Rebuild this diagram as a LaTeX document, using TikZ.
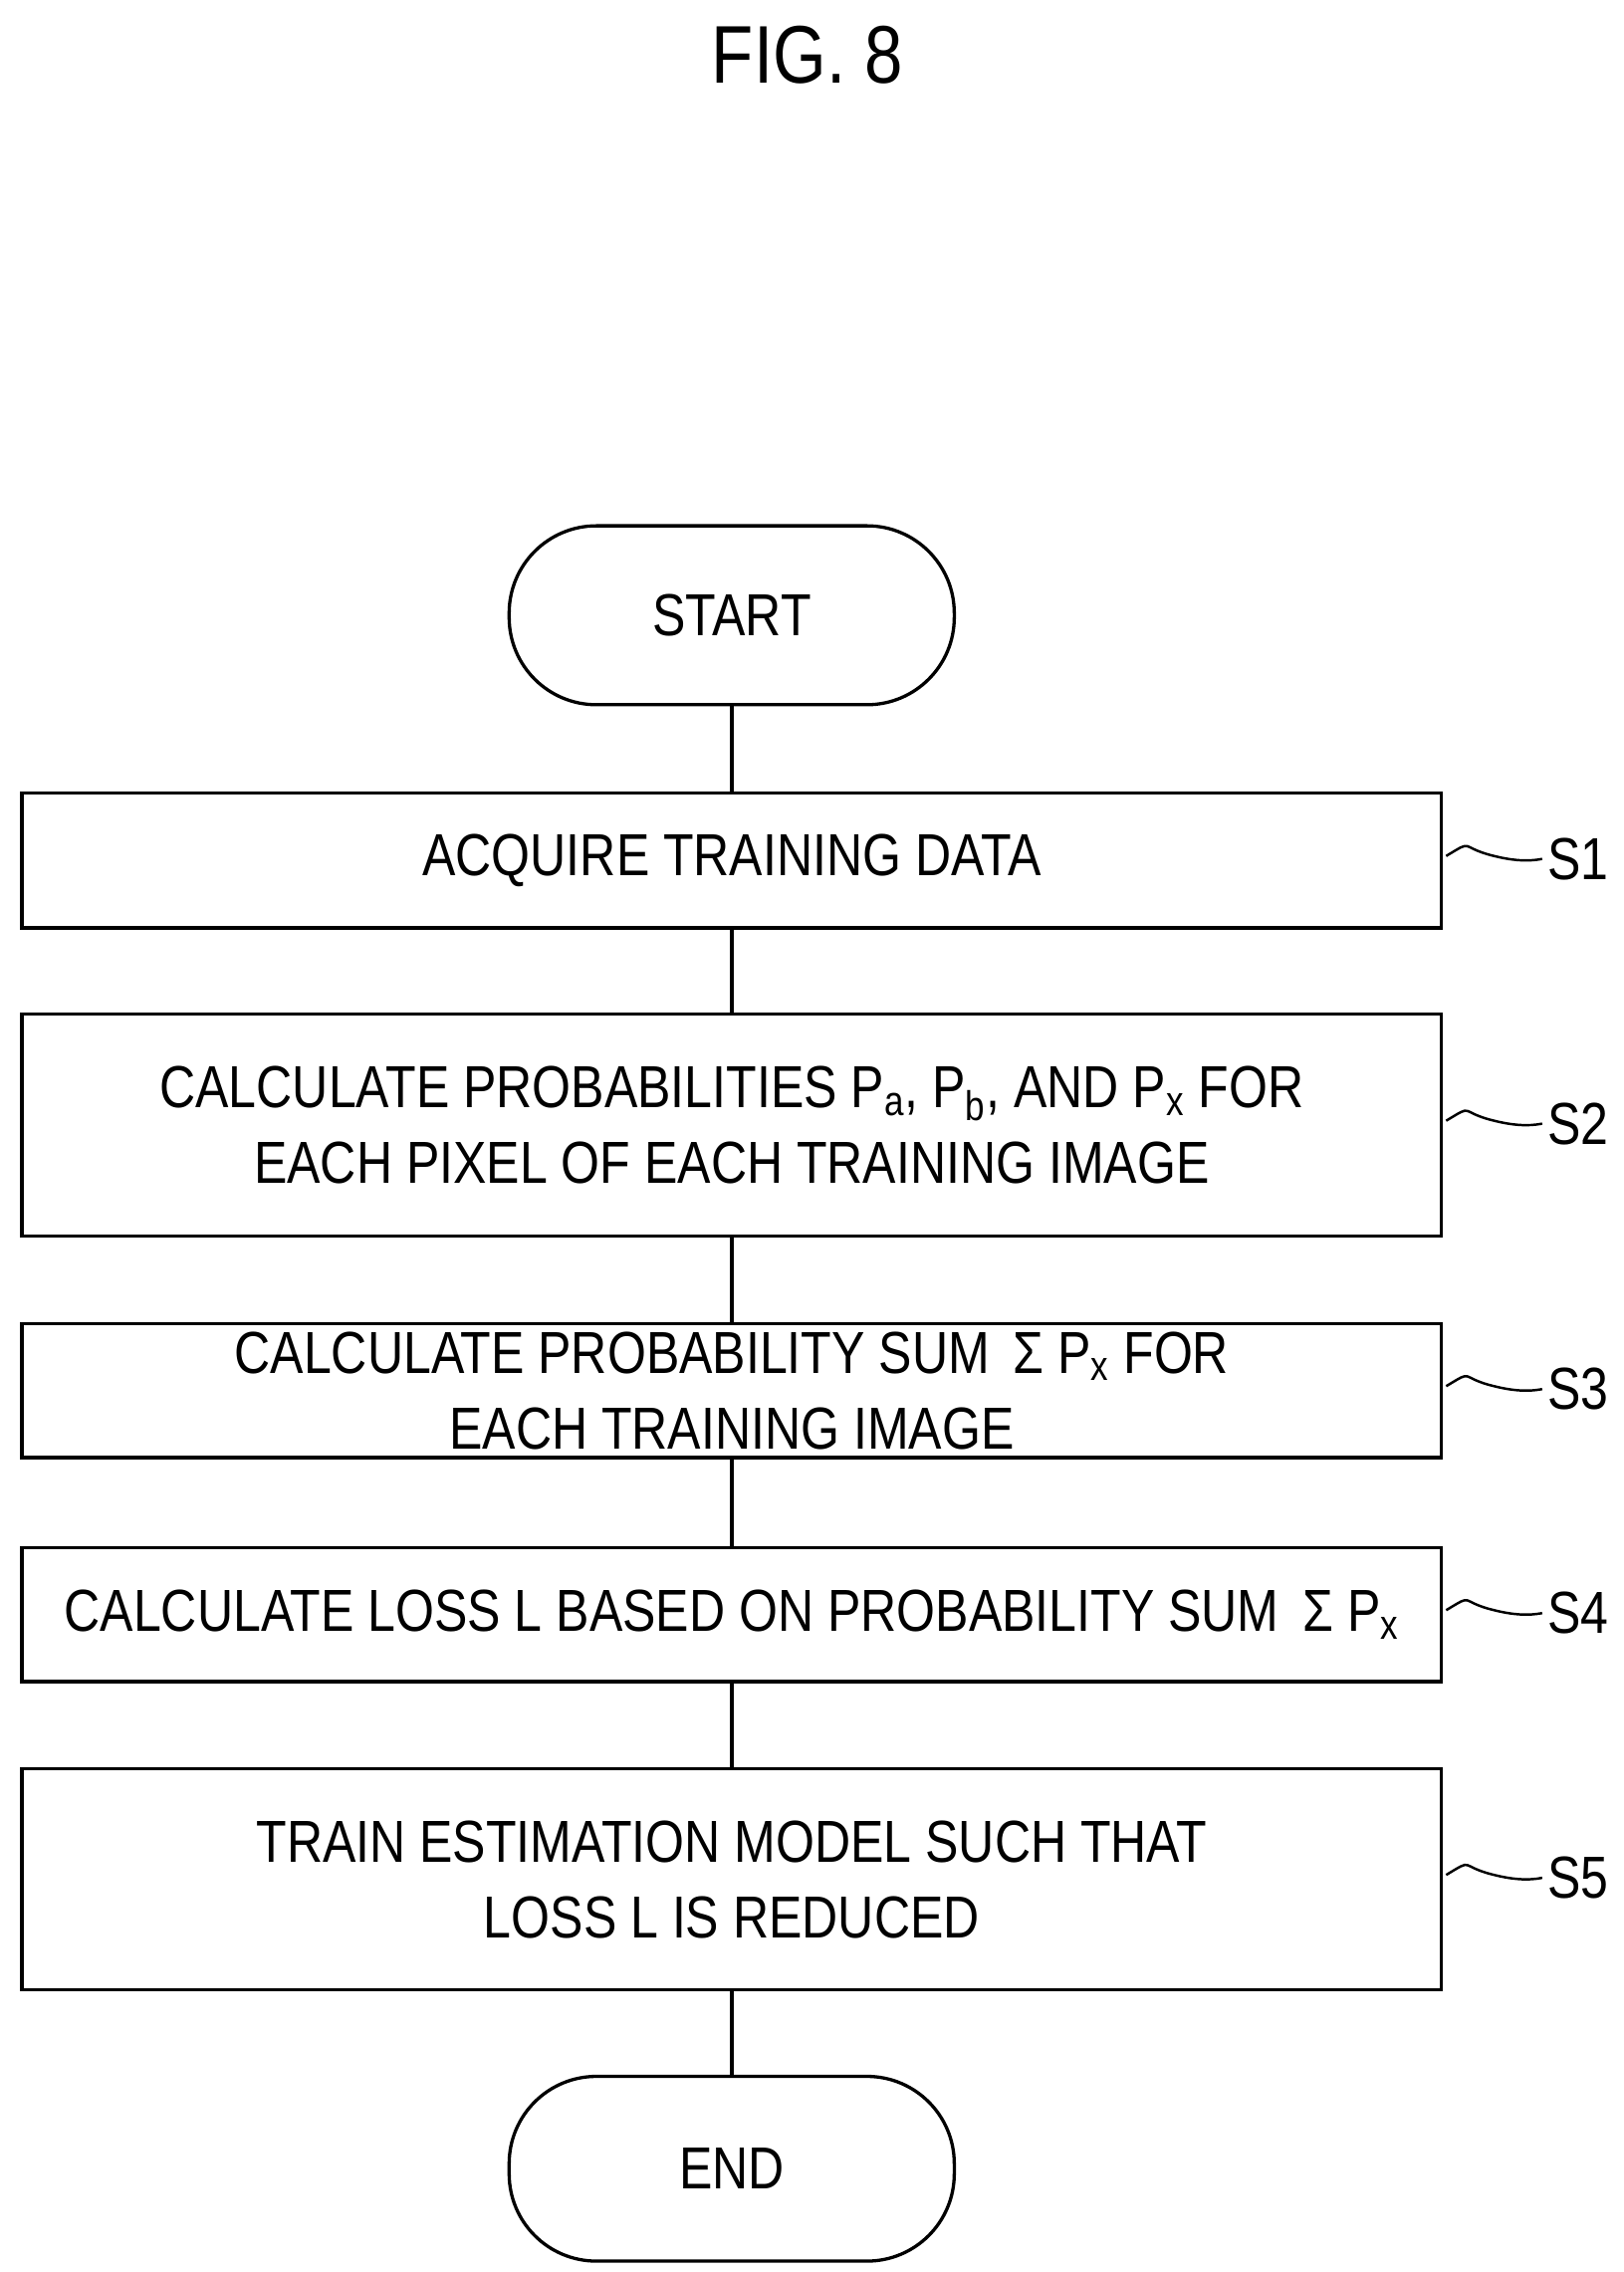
\documentclass[tikz,border=0pt]{standalone}
\usepackage{fontspec}
\setmainfont{Liberation Sans}[FakeStretch=0.84]
\begin{document}
\begin{tikzpicture}[x=0.025cm,y=-0.025cm,line width=1.6pt,
  box/.style={draw,minimum width=976*0.025cm,align=center,font=\fontsize{29}{37}\selectfont,inner sep=0pt},
  term/.style={draw,rounded corners=60*0.025cm,minimum width=306*0.025cm,font=\fontsize{29}{34}\selectfont},
  lab/.style={font=\fontsize{29}{34}\selectfont,anchor=west}]
\useasboundingbox (0,0) rectangle (1116,1562);
\node[font=\fontsize{40}{44}\selectfont] (title) at (555,38) {FIG. 8};
\node[term,minimum height=123*0.025cm] (start) at (503,423) {START};
\node[box,minimum height=93*0.025cm] (s1) at (503,591.5) {ACQUIRE TRAINING DATA};
\node[box,minimum height=153*0.025cm] (s2) at (503,773.5) {CALCULATE PROBABILITIES P\textsubscript{a}, P\textsubscript{b}, AND P\textsubscript{x} FOR\\EACH PIXEL OF EACH TRAINING IMAGE};
\node[box,minimum height=92*0.025cm] (s3) at (503,956) {CALCULATE PROBABILITY SUM \,Σ P\textsubscript{x} FOR\\EACH TRAINING IMAGE};
\node[box,minimum height=92*0.025cm] (s4) at (503,1110) {CALCULATE LOSS L BASED ON PROBABILITY SUM \,Σ P\textsubscript{x}};
\node[box,minimum height=152*0.025cm] (s5) at (503,1292) {TRAIN ESTIMATION MODEL SUCH THAT\\LOSS L IS REDUCED};
\node[term,minimum height=127*0.025cm] (end) at (503,1491) {END};
\draw (start)--(s1) (s1)--(s2) (s2)--(s3) (s3)--(s4) (s4)--(s5) (s5)--(end);
\foreach \n/\t in {s1/S1,s2/S2,s3/S3,s4/S4,s5/S5}{
  \draw[line width=1.2pt] (\n.east) ++(2,-3) .. controls +(20,-12) and +(-25,-6) .. ++(33,0) .. controls +(12,3) and +(-10,2) .. ++(33,2) coordinate (\n c);
  \node[lab] (\n l) at ([xshift=-2*0.025cm]\n c) {\t};
}
\end{tikzpicture}
\end{document}
